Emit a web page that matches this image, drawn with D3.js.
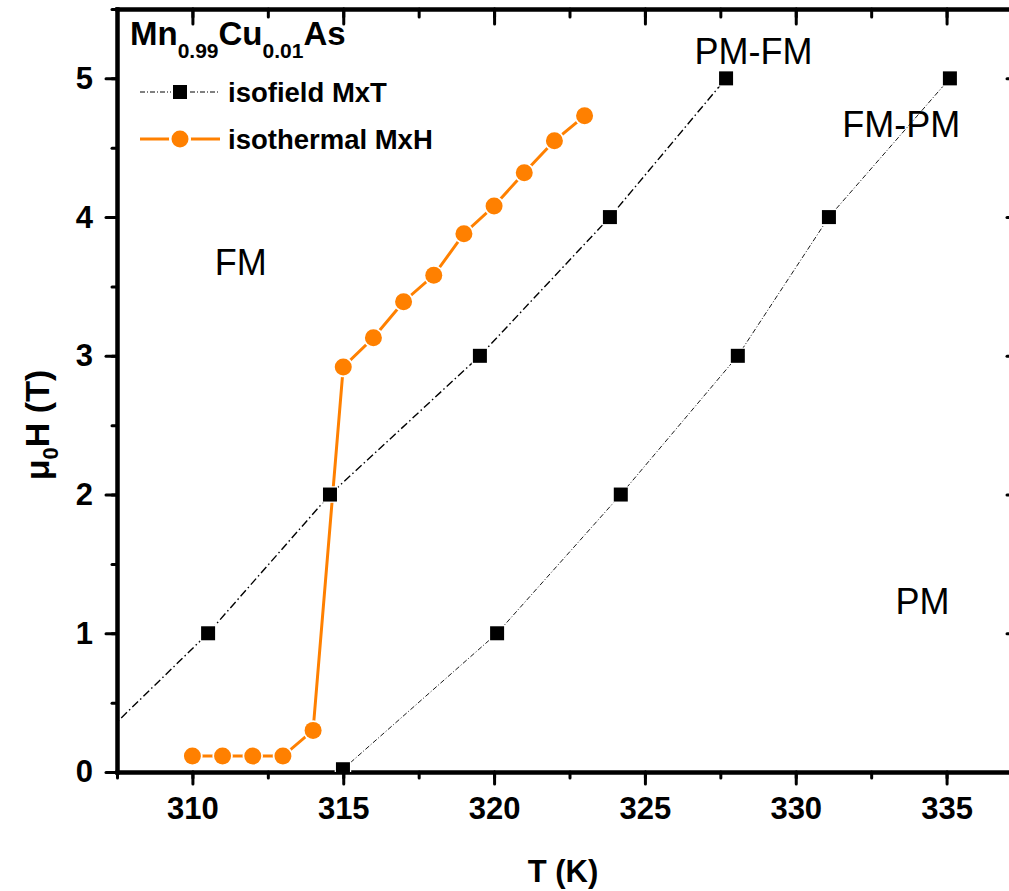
<!DOCTYPE html>
<html>
<head>
<meta charset="utf-8">
<script src="https://cdn.jsdelivr.net/npm/d3@7"></script>
<style>
  html, body { margin: 0; padding: 0; background: #fff; }
  svg { display: block; font-family: "Liberation Sans", Arial, sans-serif; }
</style>
</head>
<body>
<svg id="chart" width="1009" height="891"></svg>
<script>
// Phase diagram of Mn0.99Cu0.01As: transition fields vs temperature

// Isofield M(T) curves, PM -> FM branch (first point lies below the axis window)
const pmfmT = [305.8, 310.52, 314.56, 319.53, 323.84, 327.69];
const pmfmH = [0, 1, 2, 3, 4, 5];

// Isofield M(T) curves, FM -> PM branch
const fmpmT = [314.99, 320.1, 324.2, 328.08, 331.1, 335.11];
const fmpmH = [0.02, 1, 2, 3, 4, 5];

// Isothermal M(H) transition fields
const isoT = [310, 311, 312, 313, 314, 315, 316, 317, 318, 319, 320, 321, 322, 323];
const isoH = [0.115, 0.115, 0.115, 0.115, 0.30, 2.92, 3.13, 3.39, 3.58, 3.88, 4.08, 4.32, 4.55, 4.73];

const xTicks = [310, 315, 320, 325, 330, 335];
const yTicks = [0, 1, 2, 3, 4, 5];

const regionLabels = [
  { text: "FM", T: 311.6, H: 3.58 },
  { text: "PM-FM", T: 328.6, H: 5.10 },
  { text: "FM-PM", T: 333.5, H: 4.58 },
  { text: "PM", T: 334.2, H: 1.14 }
];

const svg = d3.select("#chart");
const pLeft = 117, pRight = 1022, pTop = 9, pBottom = 772;

const x = d3.scaleLinear().domain([307.5, 337.5]).range([pLeft, pRight]);
const y = d3.scaleLinear().domain([0, 5.5]).range([pBottom, pTop]);

svg.append("defs").append("clipPath").attr("id", "plotclip")
  .append("rect").attr("x", pLeft).attr("y", pTop)
  .attr("width", pRight - pLeft).attr("height", pBottom - pTop);

const xMinor = d3.range(307.5, 337.51, 2.5);
const yMinor = d3.range(0, 5.51, 0.5);

// Frame axes: bottom/left with outward ticks, top/right with inward ticks
function styleAxis(g) {
  g.select(".domain").attr("stroke-width", 4).attr("stroke-linecap", "square");
  g.selectAll(".tick line").attr("stroke-width", 3).attr("stroke-linecap", "round");
}

svg.append("g").attr("transform", `translate(0,${pBottom})`)
  .call(d3.axisBottom(x).tickValues(xMinor).tickSize(6).tickFormat("").tickSizeOuter(0))
  .call(styleAxis);
svg.append("g").attr("transform", `translate(0,${pBottom})`)
  .call(d3.axisBottom(x).tickValues(xTicks).tickSize(12).tickPadding(13).tickFormat(d3.format("d")).tickSizeOuter(0))
  .call(styleAxis)
  .call(g => g.selectAll("text").attr("font-size", 31).attr("font-weight", "bold").attr("fill", "#000"));

svg.append("g").attr("transform", `translate(${pLeft},0)`)
  .call(d3.axisLeft(y).tickValues(yMinor).tickSize(5).tickFormat("").tickSizeOuter(0))
  .call(styleAxis);
svg.append("g").attr("transform", `translate(${pLeft},0)`)
  .call(d3.axisLeft(y).tickValues(yTicks).tickSize(11).tickPadding(13).tickFormat(d3.format("d")).tickSizeOuter(0))
  .call(styleAxis)
  .call(g => g.selectAll("text").attr("font-size", 31).attr("font-weight", "bold").attr("fill", "#000"));

svg.append("g").attr("transform", `translate(0,${pTop})`)
  .call(d3.axisBottom(x).tickValues(xMinor).tickSize(8).tickFormat("").tickSizeOuter(0))
  .call(styleAxis);
svg.append("g").attr("transform", `translate(0,${pTop})`)
  .call(d3.axisBottom(x).tickValues(xTicks).tickSize(15).tickFormat("").tickSizeOuter(0))
  .call(styleAxis);

svg.append("g").attr("transform", `translate(${pRight},0)`)
  .call(d3.axisRight(y).tickValues(yMinor).tickSize(-8).tickFormat("").tickSizeOuter(0))
  .call(styleAxis);
svg.append("g").attr("transform", `translate(${pRight},0)`)
  .call(d3.axisRight(y).tickValues(yTicks).tickSize(-15).tickFormat("").tickSizeOuter(0))
  .call(styleAxis);

// Axis titles
svg.append("text").attr("x", 563).attr("y", 882).attr("text-anchor", "middle")
  .attr("font-size", 31).attr("font-weight", "bold").text("T (K)");

const yTitle = svg.append("text").attr("transform", "translate(49,425) rotate(-90)")
  .attr("text-anchor", "middle").attr("font-size", 34).attr("font-weight", "bold");
yTitle.append("tspan").text("\u03bc");
yTitle.append("tspan").attr("font-size", 22).attr("dy", 9).text("0");
yTitle.append("tspan").attr("dy", -9).text("H (T)");

const plot = svg.append("g").attr("clip-path", "url(#plotclip)");

const lineGen = d3.line().x(d => x(d[0])).y(d => y(d[1]));

const pmfm = pmfmT.map((t, i) => [t, pmfmH[i]]);
const fmpm = fmpmT.map((t, i) => [t, fmpmH[i]]);
const iso = isoT.map((t, i) => [t, isoH[i]]);

plot.append("path").datum(pmfm).attr("d", lineGen).attr("fill", "none")
  .attr("stroke", "#000").attr("stroke-width", 1.4).attr("stroke-dasharray", "8,3,1.5,3");
plot.append("path").datum(fmpm).attr("d", lineGen).attr("fill", "none")
  .attr("stroke", "#000").attr("stroke-width", 0.9).attr("stroke-dasharray", "5,2,1,2");

const orange = "#ff8000";
plot.append("path").datum(iso).attr("d", lineGen).attr("fill", "none")
  .attr("stroke", orange).attr("stroke-width", 3);

const sq = 14;
[pmfm.slice(1), fmpm].forEach(data => {
  plot.selectAll(null).data(data).enter().append("rect")
    .attr("x", d => x(d[0]) - sq / 2).attr("y", d => y(d[1]) - sq / 2)
    .attr("width", sq).attr("height", sq)
    .attr("fill", "#000").attr("stroke", "#fff").attr("stroke-width", 2.5)
    .attr("paint-order", "stroke");
});

plot.selectAll(null).data(iso).enter().append("circle")
  .attr("cx", d => x(d[0])).attr("cy", d => y(d[1])).attr("r", 8.5)
  .attr("fill", orange).attr("stroke", "#fff").attr("stroke-width", 3.5)
  .attr("paint-order", "stroke");
plot.selectAll(null).data(iso).enter().append("circle")
  .attr("cx", d => x(d[0])).attr("cy", d => y(d[1])).attr("r", 7.5)
  .attr("fill", orange);

// Region labels
svg.selectAll(null).data(regionLabels).enter().append("text")
  .attr("x", d => x(d.T)).attr("y", d => y(d.H))
  .attr("text-anchor", "middle").attr("font-size", 36).attr("fill", "#000")
  .text(d => d.text);

// Sample composition
const title = svg.append("text").attr("x", 130).attr("y", 45)
  .attr("font-size", 33).attr("font-weight", "bold");
title.append("tspan").text("Mn");
title.append("tspan").attr("font-size", 21).attr("dy", 13).text("0.99");
title.append("tspan").attr("dy", -13).text("Cu");
title.append("tspan").attr("font-size", 21).attr("dy", 13).text("0.01");
title.append("tspan").attr("dy", -13).text("As");

// Legend
const legend = svg.append("g");
const legendRows = [
  { label: "isofield MxT", y: 92, color: "#000", dash: "5,2,1,2", width: 1, shape: "square" },
  { label: "isothermal MxH", y: 139, color: orange, dash: "none", width: 3, shape: "circle" }
];
legendRows.forEach(r => {
  legend.append("line").attr("x1", 140).attr("x2", 220).attr("y1", r.y).attr("y2", r.y)
    .attr("stroke", r.color).attr("stroke-width", r.width).attr("stroke-dasharray", r.dash);
  if (r.shape === "square") {
    legend.append("rect").attr("x", 173).attr("y", r.y - 7).attr("width", 14).attr("height", 14)
      .attr("fill", "#000").attr("stroke", "#fff").attr("stroke-width", 4).attr("paint-order", "stroke");
  } else {
    legend.append("circle").attr("cx", 180).attr("cy", r.y).attr("r", 8.5)
      .attr("fill", orange).attr("stroke", "#fff").attr("stroke-width", 5).attr("paint-order", "stroke");
  }
  legend.append("text").attr("x", 228).attr("y", r.y + 10).attr("font-size", 27.5)
    .attr("font-weight", "bold").text(r.label);
});
</script>
</body>
</html>
